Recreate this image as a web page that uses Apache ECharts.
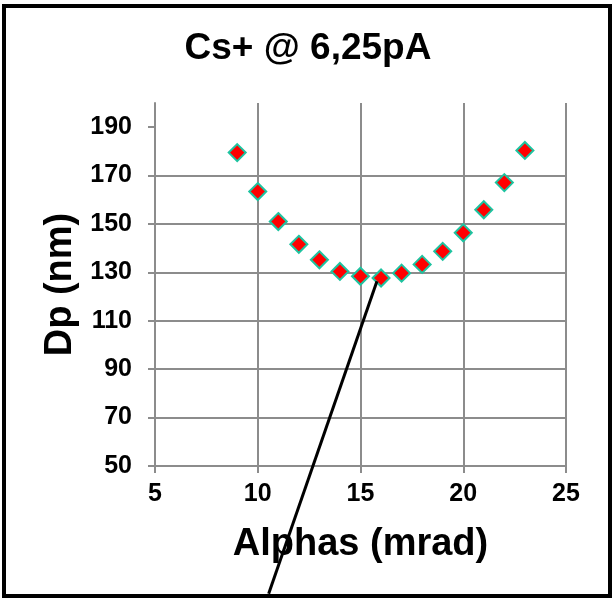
<!DOCTYPE html>
<html>
<head>
<meta charset="utf-8">
<script src="https://cdn.jsdelivr.net/npm/echarts@6/dist/echarts.min.js"></script>
<style>
  html, body { margin: 0; padding: 0; background: #fff; }
  #main { width: 616px; height: 598px; }
</style>
</head>
<body>
<div id="main"></div>
<script>
// 数据
var alphas = [9, 10, 11, 12, 13, 14, 15, 16, 17, 18, 19, 20, 21, 22, 23];
var dp = [179.5, 163.4, 151, 141.6, 135.2, 130.4, 128.4, 127.7, 129.7, 133.3, 138.7, 146.4, 155.9, 167.1, 180.4];
var yTicks = [50, 70, 90, 110, 130, 150, 170, 190];
// annotation line ends (data space)
var arrowFrom = [15.8, 126.3];
var arrowTo = [10.53, -2.8];

var fontFam = '"Liberation Sans", Arial, sans-serif';
var gridGrey = '#8c8c8c';

var myChart = echarts.init(document.getElementById('main'));

var points = alphas.map(function (a, i) { return [a, dp[i]]; });

var option = {
  backgroundColor: '#fff',
  animation: false,
  title: {
    text: 'Cs+ @ 6,25pA',
    left: 'center',
    top: 25,
    textStyle: { fontFamily: fontFam, fontSize: 37, fontWeight: 'bold', color: '#000' }
  },
  grid: { left: 155, right: 50, top: 103, bottom: 132 },
  xAxis: {
    type: 'value',
    min: 5, max: 25, interval: 5,
    name: 'Alphas (mrad)',
    nameLocation: 'middle',
    nameGap: 60,
    nameTextStyle: { fontFamily: fontFam, fontSize: 38, fontWeight: 'bold', color: '#000' },
    axisLine: { lineStyle: { color: gridGrey, width: 2 } },
    axisTick: { show: true, inside: false, length: 7, lineStyle: { color: gridGrey, width: 2 } },
    axisLabel: { fontFamily: fontFam, fontSize: 25, fontWeight: 'bold', color: '#000', margin: 16 },
    splitLine: { show: true, lineStyle: { color: gridGrey, width: 2 } }
  },
  yAxis: {
    type: 'value',
    min: 50, max: 200, interval: 20,
    name: 'Dp (nm)',
    nameLocation: 'middle',
    nameGap: 74,
    nameTextStyle: { fontFamily: fontFam, fontSize: 38, fontWeight: 'bold', color: '#000' },
    axisLine: { show: true, lineStyle: { color: gridGrey, width: 2 } },
    axisTick: { show: true, length: 7, customValues: yTicks, lineStyle: { color: gridGrey, width: 2 } },
    axisLabel: { fontFamily: fontFam, fontSize: 25, fontWeight: 'bold', color: '#000', margin: 23, customValues: yTicks },
    splitLine: { show: true, showMaxLine: false, lineStyle: { color: gridGrey, width: 2 } }
  },
  series: [{
    type: 'scatter',
    data: points,
    symbol: 'diamond',
    symbolSize: 17,
    itemStyle: { color: '#ff0000', borderColor: '#1ec3a0', borderWidth: 2, opacity: 1 }
  }]
};

myChart.setOption(option);

// 直线标注 + 外框
var p1 = myChart.convertToPixel({ gridIndex: 0 }, arrowFrom);
var p2 = myChart.convertToPixel({ gridIndex: 0 }, arrowTo);
myChart.setOption({
  graphic: [{
    type: 'rect',
    shape: { x: 4, y: 6, width: 606, height: 590 },
    style: { fill: null, stroke: '#000', lineWidth: 4 },
    silent: true
  }, {
    type: 'line',
    shape: { x1: p1[0], y1: p1[1], x2: p2[0], y2: p2[1] },
    style: { stroke: '#000', lineWidth: 3 },
    z: 100,
    silent: true
  }]
});
</script>
</body>
</html>
